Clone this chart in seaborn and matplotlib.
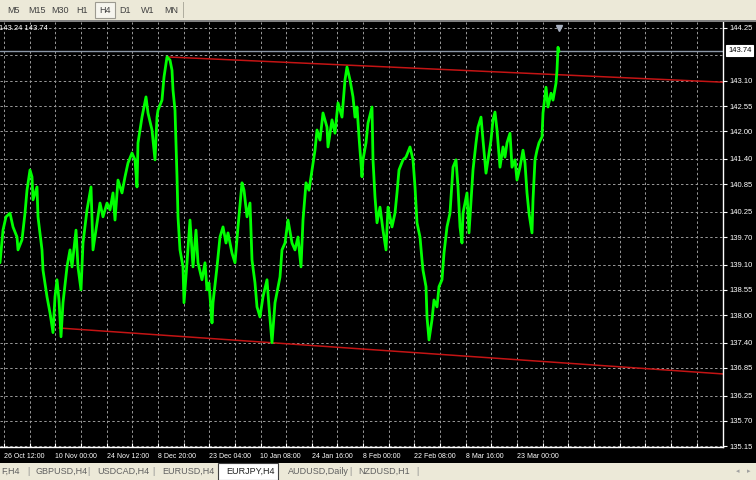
import numpy as np
import pandas as pd
import seaborn as sns
import matplotlib.pyplot as plt
from matplotlib.patches import Rectangle

# EURJPY,H4 - precio (indice de barra, precio)
bars = [0, 3, 6, 10, 13, 17, 18, 22, 25, 27, 30, 32, 33, 37, 38, 42, 43, 47, 50, 53,
        55, 57, 59, 61, 63, 67, 70, 72, 76, 78, 81, 83, 87, 91, 93, 97, 100, 103, 107, 110,
        113, 115, 118, 122, 125, 128, 132, 135, 137, 138, 142,
        146, 148, 152, 155, 157, 158, 162, 164, 167, 170, 172, 173, 175, 177, 178, 180, 183, 184, 187,
        190, 193, 196, 198, 202, 205, 207, 209, 212, 213, 217, 220, 223, 226, 228, 232, 235, 238, 242, 244,
        247, 250, 252, 255, 257, 260, 263, 267, 269, 272, 275,
        280, 282, 285, 288, 292, 295, 298, 301, 303, 306, 309, 312, 315, 317, 320, 323, 327, 328, 332, 335,
        338, 342, 345, 347, 350, 353, 355, 357, 359, 362, 363, 366, 368, 372, 373, 375, 377, 380, 383, 386,
        388, 392, 395, 397, 399, 403, 406, 410, 413, 415, 417,
        420, 422, 423, 426, 427, 429, 432, 434, 437, 439, 442, 444, 447, 450, 453, 456, 458, 460, 462, 463,
        467, 469, 472, 473, 476, 478, 481, 483, 486, 488, 491, 493, 495, 497, 500, 503, 505, 507, 510, 512,
        515, 517, 520, 523, 525, 527, 529, 532, 533, 535, 537, 539, 542, 543, 546, 548, 551, 553, 556, 557,
        558, 559]
close = [139.14, 139.85, 140.14, 140.22, 139.92, 139.70, 139.42, 139.64, 140.22, 140.72, 141.16, 141.01, 140.51, 140.79, 140.14, 139.42, 138.98, 138.40, 138.05, 137.62,
         138.40, 138.77, 138.33, 137.53, 138.27, 139.05, 139.42, 139.05, 139.85, 139.05, 138.55, 139.57, 140.29, 140.79, 139.42, 140.01, 140.44, 140.14, 140.44, 140.29,
         140.66, 140.07, 140.94, 140.66, 141.01, 141.31, 141.53, 141.38, 140.79, 141.75, 142.31,
         142.75, 142.40, 142.03, 141.38, 142.31, 142.46, 142.68, 143.18, 143.62, 143.55, 143.33, 142.90, 142.46, 141.01, 140.14, 139.42, 139.05, 138.27, 139.14,
         140.07, 139.05, 139.85, 139.14, 138.77, 139.14, 138.55, 138.70, 137.83, 138.27, 139.05, 139.70, 139.92, 139.57, 139.79, 139.35, 139.14, 139.92, 140.88, 140.72,
         140.14, 140.44, 139.20, 138.70, 138.18, 137.96, 138.40, 138.77, 138.18, 137.40, 138.27,
         138.83, 139.42, 139.57, 140.07, 139.57, 139.42, 139.70, 139.05, 140.07, 140.88, 140.72, 141.16, 141.59, 142.03, 141.81, 142.40, 142.09, 141.66, 142.25, 141.96,
         142.62, 142.31, 143.12, 143.40, 143.12, 142.75, 142.31, 142.53, 141.88, 141.01, 141.38, 141.75, 142.18, 142.53, 141.38, 140.57, 140.01, 140.35, 139.85, 139.42,
         140.35, 139.92, 140.22, 140.66, 141.16, 141.38, 141.44, 141.66, 141.38, 140.79, 140.01,
         139.70, 139.20, 138.98, 138.62, 137.96, 137.46, 137.90, 138.33, 138.18, 138.62, 138.77, 139.35, 139.92, 140.22, 141.22, 141.38, 140.79, 139.92, 139.57, 140.22,
         140.66, 139.79, 140.79, 141.16, 141.75, 142.09, 142.31, 141.81, 141.09, 141.38, 141.81, 142.25, 142.42, 142.03, 141.22, 141.66, 141.44, 141.75, 141.96, 141.22,
         141.38, 140.94, 141.22, 141.59, 141.31, 140.66, 140.22, 139.79, 140.51, 141.38, 141.59, 141.75, 141.88, 142.40, 142.96, 142.53, 142.83, 142.68, 143.05, 143.33,
         143.83, 143.74]

# lineas de tendencia (barra, precio)
upper_trend_bars = [167, 723]
upper_trend_price = [143.62, 143.07]
lower_trend_bars = [59, 723]
lower_trend_price = [137.72, 136.72]

last_price = 143.74
bid_ask = "143.24 143.74"

price_ticks = [144.25, 143.10, 142.55, 142.00, 141.40, 140.85, 140.25, 139.70,
               139.10, 138.55, 138.00, 137.40, 136.85, 136.25, 135.70, 135.15]
hidden_grid_price = [143.67]
time_labels = ["26 Oct 12:00", "10 Nov 00:00", "24 Nov 12:00", "8 Dec 20:00",
               "23 Dec 04:00", "10 Jan 08:00", "24 Jan 16:00", "8 Feb 00:00",
               "22 Feb 08:00", "8 Mar 16:00", "23 Mar 00:00"]

timeframes = ["M5", "M15", "M30", "H1", "H4", "D1", "W1", "MN"]
tabs = ["F,H4", "GBPUSD,H4", "USDCAD,H4", "EURUSD,H4", "EURJPY,H4", "AUDUSD,Daily", "NZDUSD,H1"]

df = pd.DataFrame({"bar": bars, "close": close})

sns.set_theme(style="dark")
plt.rcParams["font.family"] = ["Liberation Sans", "DejaVu Sans"]

W, H = 756, 480
fig = plt.figure(figsize=(W / 100, H / 100), dpi=100, facecolor="black")


def fx(x):
    return x / W


def fy(y):
    return 1 - y / H


ax = fig.add_axes([0, fy(447), fx(723), (447 - 22) / H])
ax.set_facecolor("black")

# grid
grid_x = 4 + 25.65 * np.arange(28)
for gx in grid_x:
    ax.axvline(gx, color="#9a9a9a", lw=0.7, ls=(0, (2.5, 2.5)), zorder=0)
for gp in price_ticks + hidden_grid_price:
    ax.axhline(gp, color="#9a9a9a", lw=0.7, ls=(0, (2.5, 2.5)), zorder=0)

# precio actual
ax.axhline(last_price, color="#8c98a8", lw=1.0, zorder=1)

# lineas de tendencia
sns.lineplot(x=upper_trend_bars, y=upper_trend_price, ax=ax, color="#c41414", lw=1.1, zorder=2)
sns.lineplot(x=lower_trend_bars, y=lower_trend_price, ax=ax, color="#c41414", lw=1.1, zorder=2)

# serie de precios
sns.lineplot(data=df, x="bar", y="close", ax=ax, color="#00ff00", lw=2.0,
             zorder=3, sort=False, estimator=None)

# marcador de desplazamiento
ax.plot([bars[-1]], [0.985], marker="v", color="#a8b0c0", ms=5,
        transform=ax.get_xaxis_transform(), clip_on=False)

ax.set_xlim(0, 723)
ax.set_ylim(135.13, 144.38)
ax.set_xlabel("")
ax.set_ylabel("")

for s in ["left", "top"]:
    ax.spines[s].set_visible(False)
for s in ["right", "bottom"]:
    ax.spines[s].set_color("white")
    ax.spines[s].set_linewidth(1.0)

ax.yaxis.tick_right()
ax.set_yticks(price_ticks)
ax.set_yticklabels([f"{p:.2f}" for p in price_ticks])
ax.tick_params(axis="y", colors="white", labelcolor="white", labelsize=5.5,
               length=3, width=0.8, pad=2, direction="out", right=True, left=False)

ax.set_xticks(grid_x)
xt = [""] * len(grid_x)
for i, lab in enumerate(time_labels):
    xt[2 * i] = lab
ax.set_xticklabels(xt)
ax.tick_params(axis="x", colors="white", labelcolor="white", labelsize=5,
               length=3, width=0.8, pad=4, direction="in", bottom=True)
plt.setp(ax.get_xticklabels(), ha="left")
ax.grid(False)

# etiqueta del precio actual
fig.text(fx(728), fy(50.5), f"{last_price:.2f}", fontsize=5.5, color="black",
         va="center", ha="left",
         bbox=dict(boxstyle="square,pad=0.2", fc="white", ec="white", lw=0.8))

# texto bid/ask
fig.text(fx(-1), fy(29), bid_ask, fontsize=5.5, color="white", va="center", ha="left")

# barra superior de periodos
fig.patches.append(Rectangle((0, fy(20)), 1, 20 / H, transform=fig.transFigure,
                             fc="#ece9d8", ec="none", zorder=0))
fig.patches.append(Rectangle((0, fy(21.5)), 1, 1.5 / H, transform=fig.transFigure,
                             fc="#808080", ec="none", zorder=0))
fig.patches.append(Rectangle((fx(95), fy(18)), 20 / W, 16 / H, transform=fig.transFigure,
                             fc="#f6f5ee", ec="#9c9a90", lw=0.8, zorder=1))
tf_x = [13, 37, 60, 82, 105, 125, 148, 171]
for lab, x in zip(timeframes, tf_x):
    fig.text(fx(x), fy(10.5), lab, fontsize=6.5, color="#404040", ha="center", va="center", zorder=2)
fig.patches.append(Rectangle((fx(183), fy(18)), 1 / W, 16 / H, transform=fig.transFigure,
                             fc="#b0aea0", ec="none", zorder=1))

# pestanas inferiores
fig.patches.append(Rectangle((0, 0), 1, 17 / H, transform=fig.transFigure,
                             fc="#ece9d8", ec="none", zorder=0))
fig.patches.append(Rectangle((fx(218), 0), 60 / W, 17.5 / H, transform=fig.transFigure,
                             fc="white", ec="#404040", lw=0.8, zorder=1))
tab_x = [1, 35, 97, 162, 226, 288, 358]
for lab, x in zip(tabs, tab_x):
    col = "#202020" if lab == "EURJPY,H4" else "#606060"
    fig.text(fx(x), fy(471.5), lab, fontsize=6.5, color=col, ha="left", va="center", zorder=2)
for x in [28, 88, 153, 350, 417]:
    fig.text(fx(x), fy(471.5), "|", fontsize=6.5, color="#909090", ha="center", va="center", zorder=2)
fig.text(fx(738), fy(471.5), "\u25c2", fontsize=5, color="#a0a0a0", ha="center", va="center",
         family=["DejaVu Sans"])
fig.text(fx(749), fy(471.5), "\u25b8", fontsize=5, color="#a0a0a0", ha="center", va="center",
         family=["DejaVu Sans"])

fig.savefig("out.png", dpi=100, facecolor="black")
